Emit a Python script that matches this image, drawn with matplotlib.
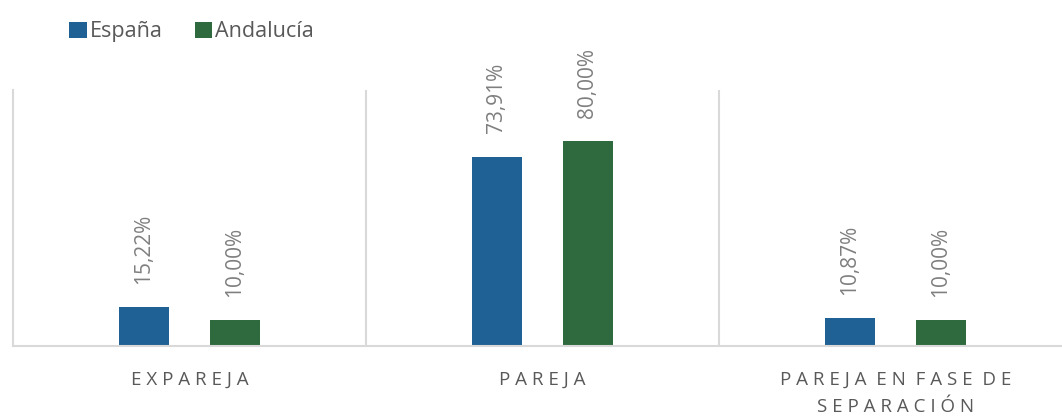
import matplotlib
matplotlib.use("Agg")
import matplotlib.pyplot as plt
import numpy as np

plt.rcParams["font.family"] = ["Open Sans", "DejaVu Sans"]

categorias = ["EXPAREJA", "PAREJA", "PAREJA EN FASE DE\nSEPARACIÓN"]
series = ["España", "Andalucía"]
espana = [15.22, 73.91, 10.87]
andalucia = [10.00, 80.00, 10.00]

colores = ["#1F6095", "#2E6A3E"]
gris = "#595959"
linea = "#D9D9D9"


def espaciar(texto):
    # simula el espaciado entre letras de las etiquetas del eje
    lineas = []
    for ln in texto.split("\n"):
        palabras = [" ".join(list(p)) for p in ln.split(" ")]
        lineas.append("  ".join(palabras))
    return "\n".join(lineas)


fig = plt.figure(figsize=(10.62, 4.19), dpi=100)
ax = fig.add_axes([0.0122, 0.174, 0.997, 0.611])

x = np.arange(len(categorias))
ancho = 0.142
desp = 0.129

for i, (vals, nombre) in enumerate(zip([espana, andalucia], series)):
    pos = x + (-desp if i == 0 else desp)
    barras = ax.bar(pos, vals, width=ancho, color=colores[i], label=nombre)
    for b, v in zip(barras, vals):
        ax.annotate(f"{v:.2f}%".replace(".", ","),
                    (b.get_x() + b.get_width() / 2, v),
                    xytext=(0, 17), textcoords="offset points",
                    rotation=90, ha="center", va="bottom",
                    fontsize=15, color="#7F7F7F")

ax.set_xlim(-0.5, 2.5)
ax.set_ylim(0, 100)
ax.set_yticks([])
ax.set_xticks(x)
ax.set_xticklabels([espaciar(c) for c in categorias], color=gris,
                   fontsize=13.5, linespacing=1.65)
ax.tick_params(axis="x", length=0, pad=18)

ax.set_xticks([0.5, 1.5], minor=True)
ax.tick_params(axis="x", which="minor", length=0)
ax.grid(True, axis="x", which="minor", color=linea, linewidth=1.5)

for lado in ["top", "right"]:
    ax.spines[lado].set_visible(False)
ax.spines["left"].set_color(linea)
ax.spines["left"].set_linewidth(1.5)
ax.spines["bottom"].set_color(linea)
ax.spines["bottom"].set_linewidth(1.5)

fig.legend(loc="upper left", bbox_to_anchor=(0.047, 0.995), ncol=2,
           frameon=False, handlelength=0.8, handleheight=0.8,
           handletextpad=0.15, columnspacing=1.5,
           prop={"size": 15.5}, labelcolor=gris)

fig.savefig("out.png", dpi=100, facecolor="white")
